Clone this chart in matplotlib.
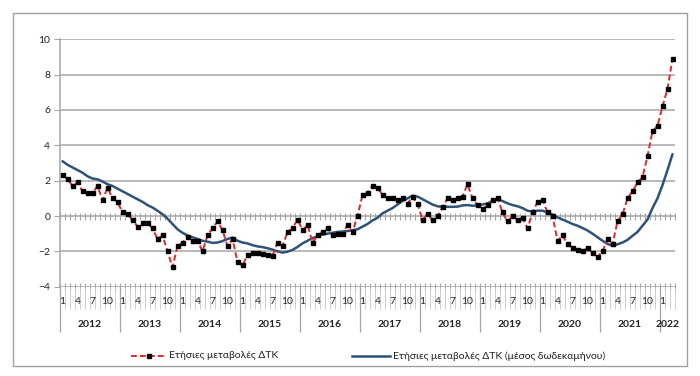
import matplotlib
matplotlib.use("Agg")
import matplotlib.pyplot as plt
import matplotlib.transforms as mtransforms
from matplotlib.patches import Rectangle
from matplotlib.lines import Line2D

plt.rcParams['font.family'] = ['Lato', 'DejaVu Sans']

years = ['2012', '2013', '2014', '2015', '2016', '2017', '2018', '2019', '2020', '2021', '2022']
month_labels = ['1', '4', '7', '10']

annual = [
    2.3, 2.1, 1.7, 1.9, 1.4, 1.3, 1.3, 1.7, 0.9, 1.6, 1.0, 0.8,
    0.2, 0.1, -0.2, -0.6, -0.4, -0.4, -0.7, -1.3, -1.1, -2.0, -2.9, -1.7,
    -1.5, -1.2, -1.4, -1.4, -2.0, -1.1, -0.7, -0.3, -0.8, -1.7, -1.3, -2.6,
    -2.8, -2.2, -2.1, -2.1, -2.15, -2.2, -2.25, -1.5, -1.7, -0.9, -0.7, -0.2,
    -0.8, -0.5, -1.5, -1.1, -0.9, -0.7, -1.1, -1.0, -1.0, -0.5, -0.9, 0.0,
    1.2, 1.3, 1.7, 1.6, 1.2, 1.0, 1.0, 0.9, 1.0, 0.7, 1.1, 0.7,
    -0.2, 0.1, -0.2, 0.0, 0.5, 1.0, 0.9, 1.0, 1.1, 1.8, 1.0, 0.6,
    0.4, 0.6, 0.9, 1.0, 0.2, -0.3, 0.0, -0.2, -0.1, -0.7, 0.2, 0.8,
    0.9, 0.2, 0.0, -1.4, -1.1, -1.6, -1.8, -1.9, -2.0, -1.8, -2.1, -2.3,
    -2.0, -1.3, -1.6, -0.3, 0.1, 1.0, 1.4, 1.9, 2.2, 3.4, 4.8, 5.1,
    6.2, 7.2, 8.9,
]

avg12 = [
    3.1, 2.9, 2.75, 2.6, 2.45, 2.25, 2.12, 2.08, 1.95, 1.8, 1.7, 1.55,
    1.4, 1.25, 1.1, 0.95, 0.8, 0.62, 0.48, 0.3, 0.1, -0.15, -0.45, -0.75,
    -0.95, -1.1, -1.2, -1.3, -1.4, -1.45, -1.52, -1.5, -1.42, -1.3, -1.22, -1.4,
    -1.5, -1.55, -1.65, -1.72, -1.76, -1.82, -1.9, -2.0, -2.07, -2.02, -1.92, -1.75,
    -1.55, -1.4, -1.25, -1.15, -1.05, -1.0, -0.95, -0.9, -0.88, -0.85, -0.8, -0.75,
    -0.6, -0.45, -0.25, -0.1, 0.15, 0.3, 0.45, 0.65, 0.85, 1.0, 1.15, 1.1,
    0.95, 0.8, 0.65, 0.55, 0.52, 0.52, 0.52, 0.53, 0.6, 0.62, 0.58, 0.6,
    0.65, 0.72, 0.85, 0.94, 0.85, 0.72, 0.62, 0.55, 0.45, 0.3, 0.25, 0.3,
    0.3, 0.2, 0.08, -0.08, -0.2, -0.32, -0.45, -0.55, -0.68, -0.82, -1.0, -1.2,
    -1.4, -1.58, -1.68, -1.6, -1.5, -1.35, -1.12, -0.9, -0.55, -0.2, 0.45, 1.0,
    1.75, 2.6, 3.5,
]

label_red = 'Ετήσιες μεταβολές ΔΤΚ'
label_blue = 'Ετήσιες μεταβολές ΔΤΚ (μέσος δωδεκαμήνου)'

n = len(annual)
x = list(range(n))

W, H = 700, 376
fig = plt.figure(figsize=(W / 100, H / 100), dpi=100)
ax = fig.add_axes([60 / W, 1 - 286.7 / H, 615 / W, 247.4 / H])

grid_c = '#A6A6A6'
red_c = '#E3262B'
blue_c = '#2F5378'

ax.set_xlim(-0.5, n - 0.5)
ax.set_ylim(-4, 10)
ax.set_yticks(range(-4, 11, 2))
for v in range(-2, 11, 2):
    ax.axhline(v, color=grid_c, lw=1.1, zorder=1)
ax.axhline(-4, color=grid_c, lw=1.1, zorder=1)

for s in ['top', 'right', 'bottom']:
    ax.spines[s].set_visible(False)
ax.spines['left'].set_color(grid_c)
ax.spines['left'].set_linewidth(1.1)
ax.tick_params(axis='y', direction='out', length=4, color=grid_c, labelsize=7.5,
               labelcolor='#222222', pad=3)
ax.set_xticks([])

# month boundary tick marks on the zero line and bottom line
bounds = [k - 0.5 for k in range(n + 1)]
tr = mtransforms.blended_transform_factory(ax.transData, ax.transAxes)
zero_frac = 4 / 14
tick_h = 3.5 / 247.4
ax.vlines(bounds, zero_frac - tick_h, zero_frac + tick_h, transform=tr,
          color=grid_c, lw=0.8, zorder=1, clip_on=False)
ax.vlines(bounds, -tick_h, tick_h, transform=tr,
          color=grid_c, lw=0.8, zorder=1, clip_on=False)
# label-row separators (month level)
ax.vlines(bounds, -22 / 247.4, 0, transform=tr, color='#C8C8C8', lw=0.6,
          zorder=1, clip_on=False)
# year separators
year_bounds = [12 * i - 0.5 for i in range(len(years))]
ax.vlines(year_bounds, -45 / 247.4, 0, transform=tr, color=grid_c, lw=0.9,
          zorder=1, clip_on=False)

for k in range(n):
    m = k % 12 + 1
    if str(m) in month_labels:
        ax.text(k, -15 / 247.4, str(m), transform=tr, ha='center', va='center',
                fontsize=7.5, color='#222222')
for i, yname in enumerate(years):
    start = 12 * i
    end = min(12 * i + 11, n - 1)
    ax.text((start + end) / 2, -38 / 247.4, yname, transform=tr, ha='center',
            va='center', fontsize=7.5, fontweight='bold', color='#222222')

ax.plot(x, avg12, color=blue_c, lw=1.8, zorder=3, solid_capstyle='round')
ax.plot(x, annual, color=red_c, lw=1.4, ls=(0, (3, 1.6)), marker='s', ms=2.6,
        mfc='black', mec='black', zorder=4)

# outer border
fig.patches.append(Rectangle((12.7 / W, 1 - 366 / H), 674 / W, 352.7 / H,
                             transform=fig.transFigure, fill=False,
                             edgecolor='#A0A0A0', lw=1.0))

# legend
ly = 1 - 356 / H
fig.add_artist(Line2D([131 / W, 166 / W], [ly, ly], color=red_c, lw=1.4,
                      ls=(0, (3, 1.6)), transform=fig.transFigure))
fig.add_artist(Line2D([148.5 / W], [ly], marker='s', ms=2.6, color='black',
                      transform=fig.transFigure))
fig.text(169 / W, ly, label_red, ha='left', va='center', fontsize=7.5,
         color='#222222')
fig.add_artist(Line2D([352 / W, 390 / W], [ly, ly], color=blue_c, lw=1.8,
                      transform=fig.transFigure))
fig.text(393 / W, ly, label_blue, ha='left', va='center', fontsize=7.5,
         color='#222222')

fig.savefig('out.png', dpi=100)
